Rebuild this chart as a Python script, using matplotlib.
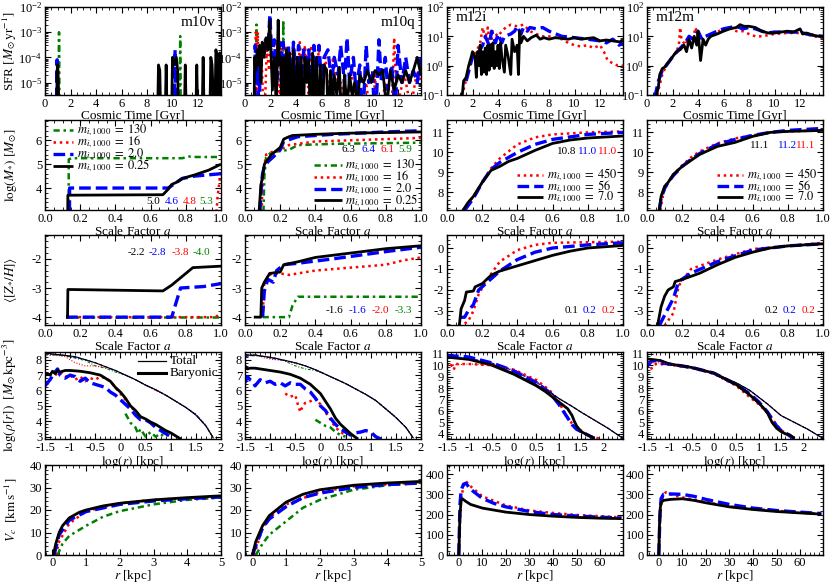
import matplotlib
matplotlib.use("Agg")
import numpy as np
import matplotlib.pyplot as plt
from matplotlib.ticker import FuncFormatter, MultipleLocator, LogLocator, NullFormatter

plt.rcParams['font.family'] = ['Liberation Serif', 'DejaVu Serif']
plt.rcParams['mathtext.fontset'] = 'stix'
plt.rcParams['axes.unicode_minus'] = False
plt.rcParams['font.size'] = 9

# ---------------- Row 1: SFR vs cosmic time ----------------
m10v_sfr_k_t = [0.9, 0.95, 1.0, 1.05, 1.1, 8.8, 8.9, 9.0, 9.1, 9.4, 9.5, 9.6, 9.9, 10.0, 10.1, 10.3, 10.4, 10.5,
                10.9, 11.0, 11.1, 11.8, 11.9, 12.0, 12.3, 12.4, 12.5, 12.9, 13.0, 13.1, 13.3, 13.4, 13.5, 13.6, 13.7, 13.75]
m10v_sfr_k = [1e-7, 3e-5, 5e-5, 1e-5, 1e-7, 1e-7, 5e-5, 3e-5, 1e-7, 1e-7, 5e-5, 1e-7, 1e-7, 1e-4, 5e-5, 1e-4, 3e-5, 1e-7,
              1e-7, 5e-5, 1e-7, 1e-7, 5e-5, 1e-7, 1e-7, 1e-4, 1e-7, 1e-7, 1e-4, 5e-5, 1e-7, 2e-4, 1e-4, 1e-7, 1.5e-4, 1e-7]
m10v_sfr_b_t = [0.9, 0.95, 1.0, 10.1, 10.2, 10.3]
m10v_sfr_b = [1e-7, 8e-5, 1e-7, 1e-7, 2e-4, 1e-7]
m10v_sfr_r_t = [13.4, 13.5, 13.55, 13.6, 13.65, 13.7, 13.75]
m10v_sfr_r = [1e-7, 1e-4, 1e-6, 1e-4, 1e-6, 1e-4, 1e-7]
m10v_sfr_g_t = [1.05, 1.1, 1.15, 10.55, 10.6, 10.65]
m10v_sfr_g = [1e-7, 1e-3, 1e-7, 1e-7, 7e-4, 1e-7]

m10q_sfr_k_t = [0.7, 0.75, 0.85, 0.95, 1.05, 1.15, 1.25, 1.35, 1.5, 1.65, 1.8, 1.95, 2.05, 2.15, 2.3, 2.45, 2.6, 2.7,
                2.8, 2.9, 3.0, 3.1, 3.25, 3.35, 3.5, 3.65, 3.8, 3.95, 4.1, 4.25, 4.4, 4.55, 4.7, 4.85, 5.0, 5.15,
                5.3, 5.45, 5.6, 5.75, 5.9, 6.05, 6.2, 6.4, 6.55, 6.7, 6.85, 7.0, 7.2, 7.4, 7.6, 7.8, 8.0, 8.2,
                8.4, 8.6, 8.8, 9.0, 9.3, 9.6, 9.9, 10.2, 10.5, 10.8, 11.1, 11.4, 11.7, 12.0, 12.3, 12.6, 12.9,
                13.2, 13.5, 13.8]
m10q_sfr_k = [1e-7, 1e-4, 3e-5, 2e-4, 5e-5, 3e-4, 1e-5, 4e-4, 1e-4, 6e-4, 2e-4, 3e-3, 1e-4, 5e-6, 1e-4, 1e-6, 3e-3, 5e-5,
              1e-4, 1e-7, 1e-4, 1e-7, 2e-4, 1e-7, 1.5e-4, 1e-6, 2e-4, 1e-7, 1e-4, 3e-6, 1e-4, 1e-7, 1e-4, 1e-5, 8e-5, 1e-7,
              1.5e-4, 1e-6, 1e-4, 1e-7, 5e-5, 1e-7, 5e-5, 3e-5, 1e-7, 3e-5, 1e-6, 2e-5, 3e-6, 4e-5, 1e-7, 2e-5, 1e-6, 2e-5,
              3e-6, 1e-5, 1e-6, 2e-5, 1e-5, 3e-5, 1e-5, 3e-5, 2e-5, 3e-5, 1e-6, 3e-5, 5e-6, 2e-5, 1e-5, 3e-5, 1e-5,
              3e-5, 1e-4, 2e-5]
m10q_sfr_b_t = [0.75, 0.8, 0.9, 1.0, 1.1, 1.2, 1.4, 1.6, 1.8, 1.95, 2.1, 2.3, 2.5, 2.7, 2.85, 3.0, 3.2, 3.4, 3.6, 3.8,
                4.0, 4.2, 4.4, 4.6, 4.8, 5.0, 5.2, 5.4, 5.6, 5.8, 6.0, 6.2, 6.5, 6.8, 7.0, 7.3, 7.5, 7.8, 8.0, 8.2,
                8.5, 8.7, 9.0, 9.2, 9.5, 9.7, 10.0, 10.2, 10.5, 10.7, 11.0, 11.2, 11.5, 11.8, 12.0, 12.3, 12.6, 12.9,
                13.2, 13.5, 13.8]
m10q_sfr_b = [1e-7, 3e-4, 1e-5, 1e-4, 1e-7, 2e-4, 1e-4, 5e-4, 2e-4, 5e-3, 1e-4, 5e-4, 1e-5, 4e-4, 1e-4, 4e-4, 1e-5, 3e-4, 1e-6, 4e-4,
              2e-5, 3e-4, 1e-5, 2e-4, 3e-5, 2e-4, 1e-6, 3e-4, 3e-5, 3e-4, 1e-5, 1e-4, 2e-4, 1e-5, 1e-4, 2e-5, 3e-4, 1e-5, 6e-4, 1e-5,
              1e-4, 5e-6, 5e-5, 1e-7, 3e-4, 1e-5, 3e-5, 1e-7, 5e-4, 1e-5, 1e-4, 5e-6, 5e-5, 1e-6, 3e-4, 1e-5, 1e-4, 1e-5,
              3e-5, 1e-5, 1e-4]
m10q_sfr_r_t = [0.8, 0.85, 0.95, 1.0, 1.1, 1.3, 1.5, 1.7, 1.9, 2.0, 2.2, 2.5, 2.7, 2.9, 3.0, 3.2, 3.5, 3.8, 4.0, 4.3,
                4.5, 4.7, 5.0, 5.2, 5.5, 5.8, 6.0, 6.3, 6.6, 6.9, 7.2, 7.5, 8.0, 8.5, 9.0, 9.5, 10.0, 10.2, 10.4,
                11.0, 11.5, 11.7, 11.9, 12.5, 13.0, 13.5, 13.8]
m10q_sfr_r = [1e-7, 1e-3, 3e-6, 1e-3, 5e-6, 1e-4, 1e-7, 2e-4, 3e-5, 5e-4, 2e-5, 5e-4, 1e-6, 5e-4, 1e-7, 3e-4, 1e-5, 4e-4, 1e-6, 4e-4,
              1e-5, 3e-4, 3e-6, 3e-4, 1e-5, 2e-4, 1e-6, 1e-4, 3e-6, 1e-4, 5e-6, 1e-5, 1e-6, 3e-5, 1e-6, 1e-5, 1e-7, 2e-5, 1e-7,
              1e-5, 1e-6, 6e-4, 1e-6, 2e-5, 1e-6, 3e-5, 1e-5]
m10q_sfr_g_t = [0.85, 0.9, 0.95, 2.95, 3.0, 3.05]
m10q_sfr_g = [1e-7, 2e-3, 1e-7, 1e-7, 3e-3, 1e-7]

m12i_sfr_k_t = [1.0, 1.2, 1.3, 1.5, 1.7, 1.9, 2.0, 2.2, 2.3, 2.4, 2.5, 2.6, 2.7, 2.8, 2.9, 3.0, 3.1, 3.2, 3.3, 3.4, 3.5,
                3.6, 3.7, 3.8, 3.9, 4.0, 4.1, 4.2, 4.3, 4.5, 4.6, 4.8, 5.0, 5.1, 5.3, 5.5, 5.6, 5.7, 5.8, 6.0, 6.3,
                6.6, 7.0, 7.3, 7.6, 8.0, 8.5, 9.0, 9.5, 10.0, 10.5, 11.0, 11.5, 12.0, 12.5, 13.0, 13.5, 13.8]
m12i_sfr_k = [0.08, 0.1, 0.3, 0.4, 1.0, 2.0, 3.0, 2.0, 0.4, 3.0, 1.0, 5.0, 0.5, 3.0, 0.6, 4.0, 0.5, 5.0, 0.7, 5.0, 1.0,
              6.0, 0.8, 3.0, 1.0, 5.0, 0.8, 6.0, 2.0, 0.6, 5.0, 2.0, 0.5, 8.0, 3.0, 5.0, 0.5, 15.0, 6.0, 10.0, 7.0,
              9.0, 11.0, 8.0, 9.0, 8.0, 9.0, 8.5, 8.0, 9.0, 8.0, 8.5, 9.0, 7.0, 7.5, 7.0, 6.5, 7.0]
m12i_sfr_b_t = [1.5, 2.0, 2.2, 2.5, 2.8, 3.0, 3.3, 3.5, 3.8, 4.0, 4.3, 4.5, 5.0, 5.3, 5.5, 5.8, 6.0, 6.3, 6.5, 7.0,
                7.5, 8.0, 9.0, 10.0, 11.0, 12.0, 12.5, 13.0, 13.5, 13.8]
m12i_sfr_b = [0.3, 2.0, 3.0, 3.0, 5.0, 10.0, 5.0, 15.0, 6.0, 12.0, 6.0, 10.0, 12.0, 15.0, 22.0, 12.0, 20.0, 15.0, 20.0, 18.0,
              20.0, 15.0, 10.0, 9.0, 8.0, 7.0, 6.0, 8.0, 5.0, 6.0]
m12i_sfr_r_t = [1.3, 1.6, 2.0, 2.3, 2.6, 2.8, 3.0, 3.2, 3.4, 3.6, 4.0, 4.3, 4.6, 5.0, 5.5, 6.0, 6.5, 7.0, 7.5, 8.0,
                8.5, 9.0, 9.5, 10.0, 10.5, 11.0, 11.5, 12.0, 12.3, 12.6, 13.0, 13.4, 13.8]
m12i_sfr_r = [0.15, 0.5, 2.0, 3.0, 6.0, 20.0, 8.0, 20.0, 4.0, 15.0, 10.0, 15.0, 20.0, 25.0, 22.0, 25.0, 15.0, 12.0, 10.0, 10.0,
              9.0, 8.0, 6.0, 5.0, 4.5, 5.0, 4.0, 5.0, 3.0, 1.5, 1.2, 1.0, 1.0]

m12m_sfr_k_t = [0.7, 0.9, 1.0, 1.2, 1.4, 1.6, 1.8, 2.0, 2.3, 2.6, 2.9, 3.1, 3.3, 3.5, 3.7, 3.9, 4.0, 4.2, 4.4, 4.6, 4.8,
                5.0, 5.5, 6.0, 6.5, 7.0, 7.3, 7.6, 8.0, 8.5, 9.0, 9.5, 10.0, 10.5, 11.0, 11.5, 12.0, 12.2, 12.5, 13.0,
                13.5, 13.8]
m12m_sfr_k = [0.08, 0.2, 0.5, 0.8, 0.9, 1.2, 1.5, 2.0, 3.0, 3.5, 5.0, 3.0, 8.0, 4.0, 10.0, 5.0, 15.0, 1.5, 8.0, 5.0, 8.0,
              10.0, 12.0, 15.0, 18.0, 20.0, 25.0, 22.0, 22.0, 20.0, 15.0, 13.0, 13.0, 14.0, 15.0, 14.0, 18.0, 12.0, 13.0, 11.0,
              10.0, 10.0]
m12m_sfr_b_t = [0.6, 0.9, 1.2, 1.5, 2.0, 2.5, 3.0, 3.3, 3.6, 4.0, 4.3, 4.6, 5.0, 5.5, 6.0, 6.5, 7.0, 7.5, 8.0, 8.5,
                9.0, 9.5, 10.0, 11.0, 12.0, 12.5, 13.0, 13.8]
m12m_sfr_b = [0.08, 0.3, 0.7, 1.0, 2.0, 3.5, 6.0, 10.0, 8.0, 15.0, 8.0, 10.0, 12.0, 15.0, 18.0, 20.0, 22.0, 18.0, 20.0, 18.0,
              15.0, 13.0, 14.0, 14.0, 14.0, 12.0, 11.0, 10.0]
m12m_sfr_r_t = [0.8, 1.2, 1.6, 2.0, 2.3, 2.5, 2.6, 2.7, 3.0, 3.3, 3.6, 3.8, 4.0, 4.3, 4.6, 5.0, 5.5, 6.0, 6.5, 7.0,
                7.5, 8.0, 8.5, 9.0, 9.5, 10.0, 11.0, 12.0, 12.5, 13.0, 13.8]
m12m_sfr_r = [0.1, 0.5, 1.2, 2.0, 3.0, 5.0, 20.0, 8.0, 5.0, 10.0, 8.0, 20.0, 10.0, 8.0, 10.0, 12.0, 14.0, 18.0, 20.0, 15.0,
              15.0, 12.0, 10.0, 10.0, 11.0, 12.0, 13.0, 13.0, 12.0, 10.0, 9.0]

# ---------------- Row 2: log stellar mass vs scale factor ----------------
m10v_ms_k_a = [0.129, 0.13, 0.67, 0.70, 0.72, 0.75, 0.78, 0.85, 0.93, 1.0]
m10v_ms_k = [3.0, 3.7, 3.72, 3.95, 4.15, 4.25, 4.4, 4.55, 4.75, 5.0]
m10v_ms_b_a = [0.139, 0.14, 0.70, 0.74, 0.78, 0.85, 1.0]
m10v_ms_b = [3.0, 4.0, 4.0, 4.2, 4.4, 4.5, 4.6]
m10v_ms_r_a = [0.975, 0.98, 0.99, 1.0]
m10v_ms_r = [3.0, 3.6, 4.2, 4.8]
m10v_ms_g_a = [0.134, 0.135, 0.15, 0.5, 0.78, 0.82, 0.86, 1.0]
m10v_ms_g = [3.0, 5.2, 5.25, 5.25, 5.25, 5.32, 5.3, 5.3]

m10q_ms_k_a = [0.08, 0.09, 0.10, 0.11, 0.13, 0.15, 0.20, 0.22, 0.25, 0.27, 0.40, 0.60, 1.0]
m10q_ms_k = [3.0, 4.1, 4.5, 5.0, 5.2, 5.4, 5.7, 6.05, 6.15, 6.2, 6.25, 6.3, 6.35]
m10q_ms_b_a = [0.085, 0.095, 0.10, 0.11, 0.13, 0.16, 0.20, 0.22, 0.30, 0.50, 0.80, 1.0]
m10q_ms_b = [3.0, 4.3, 4.6, 4.9, 5.1, 5.3, 5.6, 5.95, 6.15, 6.25, 6.35, 6.4]
m10q_ms_r_a = [0.095, 0.10, 0.12, 0.15, 0.20, 0.25, 0.40, 0.60, 1.0]
m10q_ms_r = [3.0, 4.5, 5.4, 5.5, 5.6, 5.8, 5.95, 6.0, 6.1]
m10q_ms_g_a = [0.105, 0.11, 0.12, 0.15, 0.25, 0.30, 0.50, 1.0]
m10q_ms_g = [3.0, 4.5, 5.3, 5.5, 5.6, 5.8, 5.85, 5.9]

m12i_ms_k_a = [0.09, 0.12, 0.15, 0.20, 0.25, 0.30, 0.35, 0.40, 0.50, 0.60, 0.70, 0.80, 1.0]
m12i_ms_k = [7.1, 7.5, 7.8, 8.5, 9.1, 9.3, 9.55, 9.7, 10.1, 10.45, 10.62, 10.72, 10.82]
m12i_ms_b_a = [0.10, 0.15, 0.20, 0.25, 0.30, 0.40, 0.50, 0.60, 0.80, 1.0]
m12i_ms_b = [7.1, 7.7, 8.5, 9.15, 9.5, 10.0, 10.4, 10.65, 10.9, 11.0]
m12i_ms_r_a = [0.09, 0.15, 0.20, 0.25, 0.30, 0.40, 0.50, 0.60, 0.80, 1.0]
m12i_ms_r = [7.1, 7.8, 8.5, 9.2, 9.7, 10.4, 10.75, 10.9, 11.0, 11.05]

m12m_ms_k_a = [0.07, 0.08, 0.10, 0.12, 0.15, 0.20, 0.25, 0.30, 0.35, 0.40, 0.50, 0.60, 0.70, 0.80, 1.0]
m12m_ms_k = [7.1, 7.8, 8.3, 8.5, 8.9, 9.3, 9.6, 9.9, 10.1, 10.3, 10.5, 10.8, 11.0, 11.05, 11.1]
m12m_ms_b_a = [0.07, 0.08, 0.10, 0.12, 0.15, 0.20, 0.25, 0.30, 0.40, 0.50, 0.60, 0.70, 0.80, 1.0]
m12m_ms_b = [7.1, 7.7, 8.2, 8.5, 8.85, 9.3, 9.65, 9.95, 10.4, 10.65, 10.85, 11.0, 11.1, 11.2]
m12m_ms_r_a = [0.075, 0.09, 0.10, 0.12, 0.15, 0.20, 0.25, 0.30, 0.40, 0.50, 0.60, 0.70, 0.80, 1.0]
m12m_ms_r = [7.1, 7.8, 8.2, 8.5, 8.9, 9.35, 9.75, 10.05, 10.45, 10.7, 10.85, 11.0, 11.05, 11.1]

# ---------------- Row 3: stellar metallicity vs scale factor ----------------
m10v_z_k_a = [0.12, 0.128, 0.13, 0.67, 0.72, 0.78, 0.84, 1.0]
m10v_z_k = [-4.0, -4.0, -3.05, -3.1, -2.9, -2.6, -2.3, -2.25]
m10v_z_b_a = [0.12, 0.72, 0.75, 0.77, 0.90, 1.0]
m10v_z_b = [-4.0, -4.0, -3.4, -3.0, -2.95, -2.85]
m10v_z_r_a = [0.12, 0.97, 1.0]
m10v_z_r = [-4.0, -4.0, -3.85]
m10v_z_g_a = [0.12, 1.0]
m10v_z_g = [-4.0, -4.0]

m10q_z_k_a = [0.05, 0.09, 0.095, 0.11, 0.14, 0.20, 0.22, 0.30, 0.40, 0.60, 0.80, 1.0]
m10q_z_k = [-4.0, -4.0, -3.0, -2.8, -2.5, -2.45, -2.2, -2.1, -1.95, -1.8, -1.65, -1.55]
m10q_z_b_a = [0.10, 0.11, 0.13, 0.16, 0.18, 0.22, 0.30, 0.50, 0.80, 1.0]
m10q_z_b = [-4.0, -3.1, -2.7, -2.8, -2.4, -2.2, -2.15, -2.0, -1.75, -1.6]
m10q_z_r_a = [0.10, 0.11, 0.15, 0.20, 0.25, 0.40, 0.60, 0.80, 0.90, 1.0]
m10q_z_r = [-4.0, -2.8, -2.5, -2.5, -2.55, -2.4, -2.3, -2.2, -2.05, -1.95]
m10q_z_g_a = [0.10, 0.25, 0.27, 0.30, 1.0]
m10q_z_g = [-4.0, -4.0, -3.6, -3.3, -3.3]

m12i_z_k_a = [0.07, 0.08, 0.10, 0.11, 0.15, 0.16, 0.20, 0.25, 0.30, 0.40, 0.50, 0.60, 0.70, 0.80, 1.0]
m12i_z_k = [-3.7, -2.9, -2.5, -2.1, -2.05, -1.85, -1.7, -1.3, -1.1, -0.85, -0.6, -0.35, -0.15, 0.0, 0.12]
m12i_z_b_a = [0.07, 0.10, 0.12, 0.15, 0.18, 0.22, 0.30, 0.40, 0.50, 0.60, 0.80, 1.0]
m12i_z_b = [-3.3, -3.3, -3.0, -2.7, -2.0, -1.7, -1.1, -0.55, -0.2, 0.0, 0.15, 0.25]
m12i_z_r_a = [0.10, 0.12, 0.15, 0.18, 0.22, 0.30, 0.40, 0.50, 0.60, 1.0]
m12i_z_r = [-3.6, -3.5, -3.0, -2.2, -1.6, -0.65, -0.1, 0.15, 0.25, 0.3]

m12m_z_k_a = [0.06, 0.08, 0.10, 0.12, 0.15, 0.16, 0.20, 0.30, 0.40, 0.50, 0.60, 0.70, 0.80, 1.0]
m12m_z_k = [-3.7, -2.8, -2.3, -2.0, -1.85, -1.6, -1.5, -1.2, -0.8, -0.45, -0.2, 0.0, 0.1, 0.2]
m12m_z_b_a = [0.07, 0.10, 0.15, 0.18, 0.25, 0.40, 0.60, 0.80, 1.0]
m12m_z_b = [-3.7, -3.2, -2.4, -1.6, -1.2, -0.65, -0.1, 0.1, 0.2]
m12m_z_r_a = [0.10, 0.15, 0.18, 0.25, 0.40, 0.60, 1.0]
m12m_z_r = [-3.7, -3.1, -1.8, -1.0, -0.55, -0.05, 0.25]

# ---------------- Row 4: density profiles ----------------
m10_tot_x = [-1.5, -1.3, -1.1, -0.9, -0.7, -0.5, -0.3, -0.1, 0.1, 0.3, 0.5, 0.7, 0.9, 1.1, 1.3, 1.5, 1.7, 1.85]
m10v_tot_k = [8.45, 8.35, 8.28, 8.2, 8.0, 7.8, 7.55, 7.3, 7.0, 6.7, 6.35, 6.05, 5.7, 5.3, 4.9, 4.4, 3.7, 2.9]
m10v_tot_b = [8.4, 8.35, 8.28, 8.15, 8.0, 7.8, 7.55, 7.3, 7.0, 6.7, 6.35, 6.05, 5.7, 5.3, 4.9, 4.45, 3.7, 2.9]
m10v_tot_r = [8.4, 8.3, 8.2, 7.8, 7.6, 7.6, 7.5, 7.3, 7.0, 6.7, 6.35, 6.0, 5.7, 5.3, 4.9, 4.45, 3.75, 2.9]
m10v_tot_g = [8.3, 8.3, 8.25, 8.1, 7.95, 7.6, 7.45, 7.2, 7.0, 6.7, 6.35, 6.05, 5.7, 5.3, 4.9, 4.45, 3.7, 2.9]
m10v_bar_k_x = [-1.5, -1.45, -1.4, -1.35, -1.3, -1.25, -1.2, -1.1, -1.0, -0.8, -0.6, -0.4, -0.3, -0.2, -0.1, 0.0,
                0.1, 0.2, 0.3, 0.4, 0.5, 0.6, 0.7, 0.8, 0.9, 1.0, 1.1, 1.2]
m10v_bar_k = [7.0, 7.1, 7.0, 7.25, 7.1, 7.3, 7.2, 7.3, 7.3, 7.25, 7.15, 7.0, 6.8, 6.6, 6.2, 5.9,
              5.5, 5.0, 4.7, 4.3, 4.15, 3.95, 3.8, 3.6, 3.4, 3.25, 3.05, 2.85]
m10v_bar_b_x = [-1.5, -1.4, -1.3, -1.25, -1.2, -1.1, -1.0, -0.9, -0.8, -0.7, -0.6, -0.5, -0.4, -0.3, -0.2, -0.1,
                0.0, 0.1, 0.2, 0.3, 0.4, 0.5, 0.6, 0.7, 0.8, 0.9, 1.0]
m10v_bar_b = [6.3, 6.7, 7.2, 7.4, 7.0, 6.8, 7.0, 6.9, 6.6, 6.8, 6.5, 6.4, 6.3, 6.2, 5.9, 5.7,
              5.4, 5.1, 4.8, 4.4, 4.1, 4.1, 3.9, 3.6, 3.4, 3.2, 3.0]
m10v_bar_r_x = [-1.3, -1.2, -1.1, -1.0, -0.9, -0.8, -0.7, -0.6, -0.5, -0.4, -0.3, -0.2, -0.1, 0.0, 0.1, 0.2, 0.3]
m10v_bar_r = [7.0, 7.2, 6.9, 7.0, 6.7, 6.9, 6.6, 6.8, 6.7, 6.9, 6.8, 6.6, 6.2, 5.8, 5.4, 5.0, 4.6]
m10v_bar_g_x = [0.1, 0.2, 0.3, 0.35, 0.4, 0.5, 0.6, 0.7, 0.8, 0.9]
m10v_bar_g = [4.5, 3.9, 3.6, 3.2, 3.5, 3.0, 3.3, 3.0, 3.2, 2.9]

m10q_tot_k = [8.3, 8.3, 8.2, 8.1, 7.95, 7.8, 7.6, 7.35, 7.05, 6.75, 6.45, 6.1, 5.75, 5.35, 4.8, 4.25, 3.6, 2.9]
m10q_tot_b = [8.2, 8.3, 8.2, 8.05, 7.95, 7.8, 7.6, 7.35, 7.05, 6.75, 6.45, 6.1, 5.75, 5.35, 4.8, 4.25, 3.6, 2.9]
m10q_tot_r = [8.3, 8.35, 8.1, 8.0, 7.95, 7.75, 7.6, 7.35, 7.05, 6.75, 6.45, 6.1, 5.75, 5.35, 4.85, 4.25, 3.6, 2.9]
m10q_tot_g = [8.3, 8.25, 8.2, 8.1, 7.9, 7.6, 7.4, 7.3, 7.05, 6.75, 6.45, 6.1, 5.75, 5.35, 4.8, 4.25, 3.6, 2.9]
m10q_bar_k_x = [-1.5, -1.45, -1.4, -1.3, -1.2, -1.1, -1.0, -0.8, -0.6, -0.4, -0.2, -0.1, 0.0, 0.1, 0.2, 0.3, 0.4,
                0.5, 0.6, 0.7, 0.75]
m10q_bar_k = [7.6, 7.4, 7.45, 7.45, 7.4, 7.35, 7.3, 7.2, 7.05, 6.8, 6.4, 6.1, 5.8, 5.3, 4.8, 4.2, 3.8,
              3.5, 3.2, 2.95, 2.85]
m10q_bar_b_x = [-1.5, -1.45, -1.4, -1.35, -1.3, -1.2, -1.1, -1.0, -0.9, -0.8, -0.7, -0.6, -0.5, -0.4, -0.3, -0.2,
                -0.1, 0.0, 0.1, 0.2, 0.3, 0.4, 0.5, 0.6, 0.7, 0.8, 0.9, 1.0, 1.1, 1.2]
m10q_bar_b = [6.5, 6.9, 6.7, 6.6, 6.3, 6.7, 6.5, 6.6, 6.4, 6.5, 6.3, 6.5, 6.4, 6.4, 6.1, 5.9,
              5.5, 5.0, 4.7, 4.2, 3.8, 3.5, 3.3, 3.1, 3.25, 3.3, 3.4, 3.3, 3.0, 2.85]
m10q_bar_r_x = [-0.7, -0.6, -0.5, -0.45, -0.4, -0.35, -0.3, -0.2, -0.1, 0.0, 0.1, 0.2, 0.3, 0.4, 0.5]
m10q_bar_r = [5.8, 5.6, 5.7, 5.1, 4.6, 5.0, 5.2, 5.3, 5.5, 5.1, 4.6, 4.1, 3.6, 3.3, 3.1]
m10q_bar_g_x = [-0.1, 0.0, 0.1, 0.2, 0.3, 0.4, 0.5]
m10q_bar_g = [4.1, 3.9, 3.7, 3.6, 3.3, 3.1, 3.0]

m12i_tot_x = [-1.5, -1.0, -0.5, 0.0, 0.5, 0.8, 1.0, 1.3, 1.5, 1.8, 2.1, 2.44]
m12i_tot_k = [10.7, 10.5, 10.1, 9.3, 8.3, 7.6, 7.1, 6.4, 5.9, 5.2, 4.5, 3.6]
m12i_tot_b = [10.8, 10.6, 10.2, 9.5, 8.5, 7.7, 7.1, 6.4, 5.9, 5.2, 4.5, 3.6]
m12i_tot_r = [10.0, 10.1, 10.0, 9.6, 8.6, 7.7, 7.1, 6.4, 5.9, 5.2, 4.5, 3.6]
m12i_bar_k_x = [-1.5, -1.0, -0.5, 0.0, 0.3, 0.5, 0.7, 0.9, 1.0, 1.1, 1.2, 1.3, 1.35, 1.4, 1.5, 1.6, 1.7, 1.8]
m12i_bar_k = [10.7, 10.5, 10.0, 9.2, 8.6, 8.2, 7.7, 7.1, 6.8, 6.5, 6.2, 5.6, 5.1, 4.7, 4.2, 4.0, 3.8, 3.6]
m12i_bar_b_x = [-1.5, -1.3, -1.1, -1.0, -0.8, -0.5, 0.0, 0.5, 0.8, 0.9, 1.0, 1.1, 1.2, 1.3, 1.4, 1.5, 1.6, 1.7, 1.8]
m12i_bar_b = [10.8, 10.8, 10.75, 10.7, 10.5, 10.2, 9.5, 8.5, 7.6, 7.1, 6.6, 6.0, 5.4, 4.8, 4.4, 4.2, 4.0, 3.8, 3.6]
m12i_bar_r_x = [-1.5, -1.45, -1.4, -1.35, -1.3, -1.2, -1.0, -0.5, 0.0, 0.5, 0.8, 1.0, 1.1, 1.2, 1.3, 1.4, 1.5,
                1.6, 1.7, 1.8, 1.9]
m12i_bar_r = [10.1, 9.8, 10.0, 9.6, 10.1, 10.1, 10.1, 10.0, 9.6, 8.7, 7.8, 6.8, 6.1, 5.4, 4.9, 4.5, 4.3,
              4.0, 3.8, 3.7, 3.6]

m12m_tot_x = [-1.5, -1.2, -1.0, -0.5, 0.0, 0.5, 0.8, 1.0, 1.2, 1.5, 1.8, 2.1, 2.44]
m12m_tot_k = [10.55, 10.45, 10.15, 9.8, 9.3, 8.45, 7.8, 7.2, 6.6, 5.6, 5.0, 4.4, 3.6]
m12m_tot_b = [10.3, 10.4, 10.15, 9.8, 9.3, 8.45, 7.8, 7.2, 6.6, 5.6, 5.0, 4.4, 3.6]
m12m_tot_r = [10.2, 10.2, 10.1, 9.8, 9.3, 8.45, 7.8, 7.2, 6.6, 5.6, 5.0, 4.4, 3.6]
m12m_bar_k_x = [-1.5, -1.2, -1.0, -0.5, 0.0, 0.5, 0.8, 1.0, 1.1, 1.2, 1.3, 1.4, 1.5, 1.6, 1.7, 1.8]
m12m_bar_k = [10.55, 10.4, 10.1, 9.8, 9.3, 8.3, 7.4, 6.7, 6.3, 5.8, 5.0, 4.5, 4.2, 4.0, 3.9, 3.6]
m12m_bar_b_x = [-1.5, -1.45, -1.4, -1.3, -1.2, -1.0, -0.5, 0.0, 0.5, 0.8, 1.0, 1.2, 1.4, 1.5, 1.6, 1.7, 1.8]
m12m_bar_b = [9.9, 10.1, 10.35, 10.4, 10.2, 10.1, 9.8, 9.3, 8.3, 7.5, 6.8, 5.9, 4.7, 4.3, 4.1, 3.8, 3.6]
m12m_bar_r_x = [-1.5, -1.45, -1.4, -1.35, -1.3, -1.0, -0.5, 0.0, 0.5, 0.8, 1.0, 1.2, 1.4, 1.5, 1.6, 1.7, 1.8]
m12m_bar_r = [10.2, 9.9, 9.7, 10.0, 10.1, 10.05, 9.75, 9.25, 8.2, 7.2, 6.6, 5.8, 4.8, 4.3, 4.1, 3.9, 3.6]

# ---------------- Row 5: circular velocity ----------------
m10v_vc_k_r = [0.03, 0.1, 0.2, 0.3, 0.5, 0.8, 1.0, 1.5, 2.0, 3.0, 4.0, 5.0]
m10v_vc_k = [0.0, 5.0, 10.0, 13.0, 16.5, 19.0, 20.0, 21.8, 23.0, 24.5, 25.5, 26.3]
m10v_vc_b_r = [0.05, 0.2, 0.5, 1.0, 2.0, 3.0, 4.0, 5.0]
m10v_vc_b = [0.0, 9.0, 15.5, 19.3, 22.5, 24.0, 25.0, 25.8]
m10v_vc_r_r = [0.1, 0.2, 0.5, 1.0, 2.0, 3.0, 5.0]
m10v_vc_r = [0.0, 6.0, 14.0, 19.5, 23.0, 24.5, 26.0]
m10v_vc_g_r = [0.15, 0.3, 0.5, 1.0, 1.5, 2.0, 3.0, 4.0, 5.0]
m10v_vc_g = [0.0, 5.0, 8.5, 13.0, 17.0, 19.5, 22.5, 24.5, 25.5]

m10q_vc_k_r = [0.0, 0.1, 0.3, 0.5, 1.0, 1.5, 2.0, 3.0, 4.0, 5.0]
m10q_vc_k = [0.0, 6.0, 13.0, 17.5, 23.5, 27.0, 29.0, 31.0, 32.0, 32.7]
m10q_vc_b_r = [0.0, 0.3, 0.5, 1.0, 1.5, 2.0, 3.0, 4.0, 5.0]
m10q_vc_b = [0.0, 12.0, 16.0, 21.5, 25.5, 27.5, 30.0, 31.3, 32.0]
m10q_vc_r_r = [0.05, 0.3, 0.5, 1.0, 2.0, 3.0, 5.0]
m10q_vc_r = [0.0, 12.0, 16.5, 22.5, 28.0, 30.5, 32.3]
m10q_vc_g_r = [0.1, 0.3, 0.5, 1.0, 1.5, 2.0, 3.0, 4.0, 5.0]
m10q_vc_g = [0.0, 5.0, 9.0, 15.0, 21.0, 24.5, 29.0, 31.0, 32.0]

m12i_vc_k_r = [0.0, 0.5, 1.0, 1.5, 3.0, 5.0, 10.0, 20.0, 30.0, 40.0, 50.0, 60.0, 69.0]
m12i_vc_k = [0.0, 200.0, 270.0, 278.0, 265.0, 250.0, 232.0, 212.0, 200.0, 192.0, 186.0, 182.0, 180.0]
m12i_vc_b_r = [0.0, 0.5, 1.0, 2.0, 3.0, 5.0, 10.0, 15.0, 20.0, 30.0, 40.0, 50.0, 60.0, 69.0]
m12i_vc_b = [0.0, 250.0, 320.0, 350.0, 355.0, 325.0, 280.0, 255.0, 238.0, 215.0, 200.0, 193.0, 187.0, 183.0]
m12i_vc_r_r = [0.0, 0.5, 1.0, 2.0, 3.0, 5.0, 10.0, 20.0, 30.0, 40.0, 50.0, 60.0, 69.0]
m12i_vc_r = [0.0, 150.0, 280.0, 340.0, 365.0, 340.0, 290.0, 245.0, 220.0, 208.0, 198.0, 192.0, 186.0]

m12m_vc_k_r = [0.0, 0.3, 0.6, 1.0, 2.0, 5.0, 10.0, 15.0, 20.0, 30.0, 40.0, 50.0, 60.0, 69.0]
m12m_vc_k = [0.0, 150.0, 230.0, 260.0, 270.0, 275.0, 278.0, 270.0, 258.0, 238.0, 225.0, 215.0, 208.0, 202.0]
m12m_vc_b_r = [0.0, 0.5, 1.0, 2.0, 5.0, 10.0, 15.0, 20.0, 30.0, 40.0, 50.0, 60.0, 69.0]
m12m_vc_b = [0.0, 200.0, 280.0, 300.0, 302.0, 300.0, 290.0, 275.0, 250.0, 232.0, 220.0, 212.0, 205.0]
m12m_vc_r_r = [0.0, 0.5, 1.0, 2.0, 3.0, 5.0, 10.0, 20.0, 30.0, 40.0, 60.0, 69.0]
m12m_vc_r = [0.0, 150.0, 250.0, 300.0, 310.0, 300.0, 285.0, 262.0, 240.0, 228.0, 210.0, 203.0]

# ---------------- labels ----------------
galaxy_names = ['m10v', 'm10q', 'm12i', 'm12m']
res_labels_m10 = {'g': '130', 'r': '16', 'b': '2.0', 'k': '0.25'}
res_labels_m12 = {'r': '450', 'b': '56', 'k': '7.0'}
m10v_ms_final = ['5.0', '4.6', '4.8', '5.3']
m10q_ms_final = ['6.3', '6.4', '6.1', '5.9']
m12i_ms_final = ['10.8', '11.0', '11.0']
m12m_ms_final = ['11.1', '11.2', '11.1']
m10v_z_final = ['-2.2', '-2.8', '-3.8', '-4.0']
m10q_z_final = ['-1.6', '-1.6', '-2.0', '-3.3']
m12i_z_final = ['0.1', '0.2', '0.2']
m12m_z_final = ['0.2', '0.2', '0.2']
profile_legend = ['Total', 'Baryonic']

# ---------------- styles ----------------
COL = {'k': 'black', 'b': 'blue', 'r': 'red', 'g': 'green'}
LS = {'k': '-', 'b': (0, (3.5, 1.5)), 'r': (0, (1, 1.5)), 'g': (0, (2.5, 1.5, 1, 1.5))}
LW = {'k': 2.0, 'b': 2.4, 'r': 1.8, 'g': 1.8}


def sty(c, thin=False):
    return dict(color=COL[c], ls=LS[c], lw=(0.8 if thin else LW[c]),
                solid_capstyle='butt', dash_capstyle='butt')


def key(ax, keys, labels, x0, x1, xt, ys, fs=9, styles=None):
    for i, (k, lab, y) in enumerate(zip(keys, labels, ys)):
        s = styles[i] if styles else sty(k)
        ax.plot([x0, x1], [y, y], transform=ax.transAxes, clip_on=False, **s)
        ax.text(xt, y, lab, transform=ax.transAxes, ha='left', va='center', fontsize=fs)


W, H = 831, 583
fig = plt.figure(figsize=(W / 100, H / 100), dpi=100)
col_left = [45, 245, 447, 647]
col_w = 176
row_top = [7, 120, 235, 352, 465]
row_h = [88, 90, 90, 87, 90]

axes = []
for r in range(5):
    rowax = []
    for c in range(4):
        ax = fig.add_axes([col_left[c] / W, 1 - (row_top[r] + row_h[r]) / H, col_w / W, row_h[r] / H])
        ax.tick_params(which='both', direction='in', top=True, right=True, labelsize=9, pad=2)
        ax.tick_params(which='major', length=4, width=0.8)
        ax.tick_params(which='minor', length=2, width=0.6)
        for s in ax.spines.values():
            s.set_linewidth(1.0)
        rowax.append(ax)
    axes.append(rowax)

g = globals()
gfmt = FuncFormatter(lambda v, p: '%g' % v)

# Row 1
for c, name in enumerate(galaxy_names):
    ax = axes[0][c]
    order = ['g', 'r', 'b', 'k'] if name.startswith('m10') else ['r', 'b', 'k']
    for k in order:
        ax.plot(g[f'{name}_sfr_{k}_t'], g[f'{name}_sfr_{k}'], **sty(k))
    ax.set_yscale('log')
    ax.yaxis.set_major_locator(LogLocator(base=10, numticks=20))
    ax.yaxis.set_minor_locator(LogLocator(base=10, subs=np.arange(2, 10), numticks=20))
    ax.yaxis.set_minor_formatter(NullFormatter())
    if name.startswith('m10'):
        ax.set_ylim(3.2e-6, 1e-2)
        ax.text(0.97, 0.82, name, transform=ax.transAxes, ha='right', va='center', fontsize=11)
    else:
        ax.set_ylim(0.1, 100)
        ax.text(0.05, 0.88, name, transform=ax.transAxes, ha='left', va='center', fontsize=11)
    ax.set_xlim(0, 13.8)
    ax.xaxis.set_major_locator(MultipleLocator(2))
    ax.xaxis.set_minor_locator(MultipleLocator(0.5))
    ax.set_xlabel('Cosmic Time [Gyr]', fontsize=9.5, labelpad=0)
axes[0][0].set_ylabel(r'SFR $[M_{\odot}\,{\rm yr}^{-1}]$', fontsize=9.5)

# Row 2
ms_final = {'m10v': m10v_ms_final, 'm10q': m10q_ms_final, 'm12i': m12i_ms_final, 'm12m': m12m_ms_final}
for c, name in enumerate(galaxy_names):
    ax = axes[1][c]
    m10 = name.startswith('m10')
    order = ['g', 'r', 'b', 'k'] if m10 else ['r', 'b', 'k']
    labs = res_labels_m10 if m10 else res_labels_m12
    for k in order:
        ax.plot(g[f'{name}_ms_{k}_a'], g[f'{name}_ms_{k}'], **sty(k))
    ax.set_xlim(0, 1)
    ax.xaxis.set_major_locator(MultipleLocator(0.2))
    ax.xaxis.set_minor_locator(MultipleLocator(0.05))
    ax.xaxis.set_major_formatter(FuncFormatter(lambda v, p: '%.1f' % v))
    ax.yaxis.set_major_locator(MultipleLocator(1))
    ax.yaxis.set_minor_locator(MultipleLocator(0.2))
    if m10:
        ax.set_ylim(3.08, 6.85)
    else:
        ax.set_ylim(7.12, 11.62)
    ax.set_xlabel('Scale Factor $a$', fontsize=9.5, labelpad=0)
    vals = ms_final[name]
    cols = ['k', 'b', 'r', 'g'][:len(vals)]
    if name == 'm10v':
        xs, y = [0.615, 0.72, 0.82, 0.915], 0.09
    elif name == 'm10q':
        xs, y = [0.59, 0.70, 0.81, 0.91], 0.67
    elif name == 'm12i':
        xs, y = [0.68, 0.80, 0.91], 0.645
    else:
        xs, y = [0.64, 0.80, 0.90], 0.72
    for xv, t, k in zip(xs, vals, cols):
        ax.text(xv, y, t, color=COL[k], transform=ax.transAxes, ha='center', va='center', fontsize=8)
    klabels = [r'$m_{i,1000}\;=\;%s$' % labs[k] for k in order]
    if name == 'm10v':
        key(ax, order, klabels, 0.045, 0.16, 0.18, [0.89, 0.755, 0.62, 0.49])
    elif name == 'm10q':
        key(ax, order, klabels, 0.39, 0.55, 0.57, [0.50, 0.37, 0.23, 0.11])
    else:
        key(ax, order, klabels, 0.40, 0.545, 0.57, [0.39, 0.265, 0.14])
axes[1][0].set_ylabel(r'$\log(M_{*})\ [M_{\odot}]$', fontsize=9.5)

# Row 3
z_final = {'m10v': m10v_z_final, 'm10q': m10q_z_final, 'm12i': m12i_z_final, 'm12m': m12m_z_final}
for c, name in enumerate(galaxy_names):
    ax = axes[2][c]
    m10 = name.startswith('m10')
    order = ['g', 'r', 'b', 'k'] if m10 else ['r', 'b', 'k']
    for k in order:
        ax.plot(g[f'{name}_z_{k}_a'], g[f'{name}_z_{k}'], **sty(k))
    ax.set_xlim(0, 1)
    ax.xaxis.set_major_locator(MultipleLocator(0.2))
    ax.xaxis.set_minor_locator(MultipleLocator(0.05))
    ax.xaxis.set_major_formatter(FuncFormatter(lambda v, p: '%.1f' % v))
    ax.yaxis.set_major_locator(MultipleLocator(1))
    ax.yaxis.set_minor_locator(MultipleLocator(0.2))
    ax.yaxis.set_major_formatter(gfmt)
    if m10:
        ax.set_ylim(-4.27, -1.18)
    else:
        ax.set_ylim(-3.67, 0.62)
    ax.set_xlabel('Scale Factor $a$', fontsize=9.5, labelpad=0)
    vals = z_final[name]
    cols = ['k', 'b', 'r', 'g'][:len(vals)]
    if name == 'm10v':
        xs, y = [0.52, 0.64, 0.77, 0.89], 0.81
    elif name == 'm10q':
        xs, y = [0.51, 0.64, 0.77, 0.90], 0.16
    else:
        xs, y = [0.71, 0.81, 0.915], 0.16
    for xv, t, k in zip(xs, vals, cols):
        ax.text(xv, y, t, color=COL[k], transform=ax.transAxes, ha='center', va='center', fontsize=8)
axes[2][0].set_ylabel(r'$\langle[Z_{*}/H]\rangle$', fontsize=9.5)

# Row 4
for c, name in enumerate(galaxy_names):
    ax = axes[3][c]
    m10 = name.startswith('m10')
    order = ['g', 'r', 'b', 'k'] if m10 else ['r', 'b', 'k']
    totx = m10_tot_x if m10 else g[f'{name}_tot_x']
    for k in order:
        ax.plot(g[f'{name}_bar_{k}_x'], g[f'{name}_bar_{k}'], **sty(k))
    for k in order:
        ax.plot(totx, g[f'{name}_tot_{k}'], **sty(k, thin=True))
    ax.xaxis.set_major_locator(MultipleLocator(0.5))
    ax.xaxis.set_minor_locator(MultipleLocator(0.1))
    ax.xaxis.set_major_formatter(gfmt)
    ax.yaxis.set_major_locator(MultipleLocator(1))
    ax.yaxis.set_minor_locator(MultipleLocator(0.2))
    if m10:
        ax.set_xlim(-1.5, 2.0)
        ax.set_ylim(2.85, 8.5)
    else:
        ax.set_xlim(-1.5, 2.44)
        ax.set_ylim(3.55, 11.15)
    ax.set_xlabel(r'$\log(r)$ [kpc]', fontsize=9.5, labelpad=0)
axes[3][0].set_ylabel(r'$\log(\rho[r])\ \ [M_{\odot}\,{\rm kpc}^{-3}]$', fontsize=9.5)
key(axes[3][0], ['k', 'k'], profile_legend, 0.53, 0.69, 0.71, [0.90, 0.76], fs=9.5,
    styles=[dict(color='black', lw=0.9), dict(color='black', lw=2.2)])

# Row 5
for c, name in enumerate(galaxy_names):
    ax = axes[4][c]
    m10 = name.startswith('m10')
    order = ['g', 'r', 'b', 'k'] if m10 else ['r', 'b', 'k']
    for k in order:
        ax.plot(g[f'{name}_vc_{k}_r'], g[f'{name}_vc_{k}'], **sty(k))
    if m10:
        ax.set_xlim(-0.22, 5.0)
        ax.set_ylim(0, 40)
        ax.xaxis.set_major_locator(MultipleLocator(1))
        ax.xaxis.set_minor_locator(MultipleLocator(0.2))
        ax.yaxis.set_major_locator(MultipleLocator(10))
        ax.yaxis.set_minor_locator(MultipleLocator(2))
    else:
        ax.set_xlim(-5, 69.7)
        ax.set_ylim(0, 445)
        ax.xaxis.set_major_locator(MultipleLocator(10))
        ax.xaxis.set_minor_locator(MultipleLocator(2))
        ax.yaxis.set_major_locator(MultipleLocator(100))
        ax.yaxis.set_minor_locator(MultipleLocator(20))
    ax.tick_params(axis='x', pad=1.5)
    ax.set_xlabel(r'$r$ [kpc]', fontsize=9.5, labelpad=-1)
axes[4][0].set_ylabel(r'$V_c\ \ [{\rm km\,s}^{-1}]$', fontsize=9.5)

for r in range(5):
    axes[r][0].yaxis.set_label_coords(-0.145, 0.5)

fig.savefig('out.png', dpi=100)
